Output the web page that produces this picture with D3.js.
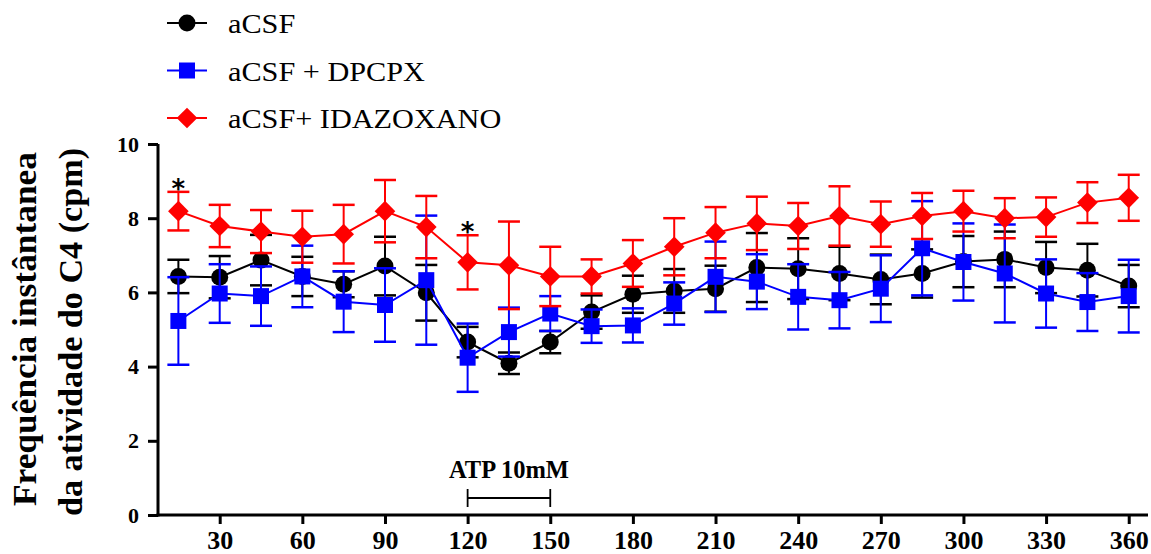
<!DOCTYPE html>
<html>
<head>
<meta charset="utf-8">
<script src="https://cdn.jsdelivr.net/npm/d3@7"></script>
<style>
  body { margin: 0; background: #fff; }
  svg { font-family: "Liberation Serif", "Times New Roman", serif; }
</style>
</head>
<body>
<div id="app"></div>
<script>
// time points (min)
const times = [15, 30, 45, 60, 75, 90, 105, 120, 135, 150, 165, 180, 195, 210, 225, 240, 255, 270, 285, 300, 315, 330, 345, 360];

const acsfMean = [6.43, 6.41, 6.87, 6.43, 6.22, 6.71, 5.99, 4.66, 4.09, 4.66, 5.47, 5.95, 6.04, 6.10, 6.67, 6.64, 6.51, 6.35, 6.51, 6.83, 6.89, 6.67, 6.60, 6.17];
const acsfSem = [0.45, 0.57, 0.68, 0.53, 0.35, 0.79, 0.75, 0.41, 0.29, 0.30, 0.45, 0.50, 0.59, 0.62, 0.93, 0.82, 0.72, 0.67, 0.65, 0.69, 0.75, 0.69, 0.71, 0.57];

const dpcpxMean = [5.23, 5.97, 5.90, 6.43, 5.75, 5.66, 6.33, 4.24, 4.93, 5.43, 5.09, 5.11, 5.70, 6.42, 6.29, 5.88, 5.79, 6.10, 7.19, 6.82, 6.51, 5.97, 5.74, 5.90];
const dpcpxSem = [1.18, 0.79, 0.80, 0.83, 0.82, 0.99, 1.74, 0.92, 0.66, 0.47, 0.45, 0.46, 0.57, 0.95, 0.74, 0.88, 0.76, 0.90, 1.27, 1.04, 1.32, 0.92, 0.78, 0.98];

const idazMean = [8.19, 7.79, 7.64, 7.50, 7.57, 8.19, 7.76, 6.81, 6.73, 6.43, 6.43, 6.78, 7.23, 7.61, 7.86, 7.79, 8.06, 7.84, 8.06, 8.19, 8.00, 8.03, 8.42, 8.55];
const idazSem = [0.52, 0.57, 0.58, 0.70, 0.79, 0.84, 0.84, 0.73, 1.18, 0.80, 0.46, 0.63, 0.77, 0.69, 0.72, 0.62, 0.80, 0.61, 0.62, 0.55, 0.54, 0.53, 0.55, 0.62];

const xTicks = [30, 60, 90, 120, 150, 180, 210, 240, 270, 300, 330, 360];
const yTicks = [0, 2, 4, 6, 8, 10];
const starTimes = [15, 120];
const atpRange = [120, 150];

const series = [
    { name: "aCSF", mean: acsfMean, sem: acsfSem, color: "#000000", shape: "circle" },
    { name: "aCSF + DPCPX", mean: dpcpxMean, sem: dpcpxSem, color: "#0000ff", shape: "square" },
    { name: "aCSF+ IDAZOXANO", mean: idazMean, sem: idazSem, color: "#ff0000", shape: "diamond" }
];

const width = 1151;
const height = 554;
const plotLeft = 158, plotRight = 1148, plotTop = 144, plotBottom = 515;

const svg = d3.select('#app')
    .append('svg')
    .attr('width', width)
    .attr('height', height);

const x = d3.scaleLinear().domain([7.6, 367]).range([plotLeft, plotRight]);
const y = d3.scaleLinear().domain([0, 10]).range([plotBottom, plotTop]);

const symbolFor = shape => {
    if (shape === "circle") return d3.symbol().type(d3.symbolCircle).size(Math.PI * 8.5 * 8.5);
    if (shape === "square") return d3.symbol().type(d3.symbolSquare).size(16 * 16);
    return d3.symbol().type(d3.symbolDiamond2).size(16.5 * 16.5);
};

// axes
const xAxis = svg.append('g')
    .attr('transform', 'translate(0,' + plotBottom + ')')
    .call(d3.axisBottom(x).tickValues(xTicks).tickSize(9).tickPadding(7).tickSizeOuter(0));
const yAxis = svg.append('g')
    .attr('transform', 'translate(' + plotLeft + ',0)')
    .call(d3.axisLeft(y).tickValues(yTicks).tickSize(10).tickPadding(9).tickSizeOuter(0));

[xAxis, yAxis].forEach(ax => {
    ax.select('.domain').attr('stroke', '#000').attr('stroke-width', 3);
    ax.selectAll('.tick line').attr('stroke', '#000').attr('stroke-width', 3);
    ax.selectAll('.tick text')
        .attr('fill', '#000')
        .style('font-family', '"Liberation Serif", serif')
        .style('font-weight', 'bold');
});
xAxis.selectAll('.tick text').style('font-size', '26px');
yAxis.selectAll('.tick text').style('font-size', '22px');
xAxis.select('.domain').attr('d', 'M' + (plotLeft - 1.5) + ',0H' + plotRight);
yAxis.select('.domain').attr('d', 'M0,' + plotTop + 'V' + (plotBottom + 1.5));

// y title (two lines, stretched like the original)
const titleLines = [
    { text: 'Frequência instântanea', base: 36, center: 329, len: 354 },
    { text: 'da atividade do C4 (cpm)', base: 82, center: 332, len: 368 }
];
titleLines.forEach(l => {
    svg.append('text')
        .attr('transform', 'translate(' + l.base + ',' + l.center + ') rotate(-90)')
        .attr('text-anchor', 'middle')
        .attr('textLength', l.len)
        .attr('lengthAdjust', 'spacingAndGlyphs')
        .style('font-weight', 'bold')
        .style('font-size', '33px')
        .text(l.text);
});

// series
series.forEach(s => {
    const pts = times.map((t, i) => ({ t: t, m: s.mean[i], e: s.sem[i] }));
    const g = svg.append('g');

    const bars = g.selectAll('g.err')
        .data(pts)
        .enter()
        .append('g')
        .attr('stroke', s.color)
        .attr('stroke-width', 2);
    bars.append('line')
        .attr('x1', d => x(d.t)).attr('x2', d => x(d.t))
        .attr('y1', d => y(d.m - d.e)).attr('y2', d => y(d.m + d.e));
    bars.append('line')
        .attr('x1', d => x(d.t) - 11).attr('x2', d => x(d.t) + 11)
        .attr('y1', d => y(d.m + d.e)).attr('y2', d => y(d.m + d.e))
        .attr('stroke-width', 2.5);
    bars.append('line')
        .attr('x1', d => x(d.t) - 11).attr('x2', d => x(d.t) + 11)
        .attr('y1', d => y(d.m - d.e)).attr('y2', d => y(d.m - d.e))
        .attr('stroke-width', 2.5);

    g.append('path')
        .datum(pts)
        .attr('fill', 'none')
        .attr('stroke', s.color)
        .attr('stroke-width', 2)
        .attr('d', d3.line().x(d => x(d.t)).y(d => y(d.m)));

    g.selectAll('path.mk')
        .data(pts)
        .enter()
        .append('path')
        .attr('class', 'mk')
        .attr('transform', d => 'translate(' + x(d.t) + ',' + y(d.m) + ')')
        .attr('d', symbolFor(s.shape))
        .attr('fill', s.color);
});

// significance stars over IDAZOXANO
svg.selectAll('text.star')
    .data(starTimes)
    .enter()
    .append('text')
    .attr('class', 'star')
    .attr('x', d => x(d))
    .attr('y', d => {
        const i = times.indexOf(d);
        return y(idazMean[i] + idazSem[i]) + 6;
    })
    .attr('text-anchor', 'middle')
    .style('font-family', '"DejaVu Sans", sans-serif')
    .style('font-weight', 'bold')
    .style('font-size', '26px')
    .text('*');

// ATP application bar
const atpY = 498;
const atp = svg.append('g').attr('stroke', '#000').attr('stroke-width', 1.8);
atp.append('line').attr('x1', x(atpRange[0])).attr('x2', x(atpRange[1])).attr('y1', atpY).attr('y2', atpY);
atpRange.forEach(v => {
    atp.append('line').attr('x1', x(v)).attr('x2', x(v)).attr('y1', atpY - 9).attr('y2', atpY + 9);
});
svg.append('text')
    .attr('x', (x(atpRange[0]) + x(atpRange[1])) / 2)
    .attr('y', 478)
    .attr('text-anchor', 'middle')
    .style('font-weight', 'bold')
    .style('font-size', '24.5px')
    .text('ATP 10mM');

// legend
const legend = svg.append('g');
series.forEach((s, i) => {
    const ly = 23 + i * 47.5;
    legend.append('line')
        .attr('x1', 167).attr('x2', 207)
        .attr('y1', ly).attr('y2', ly)
        .attr('stroke', s.color).attr('stroke-width', 2);
    legend.append('path')
        .attr('transform', 'translate(187,' + ly + ')')
        .attr('d', symbolFor(s.shape))
        .attr('fill', s.color);
    const t = legend.append('text')
        .attr('x', 228).attr('y', ly + 10)
        .style('font-size', '28px')
        .text(s.name);
    const w = t.node().getComputedTextLength();
    t.attr('textLength', w * 1.08).attr('lengthAdjust', 'spacingAndGlyphs');
});
</script>
</body>
</html>
